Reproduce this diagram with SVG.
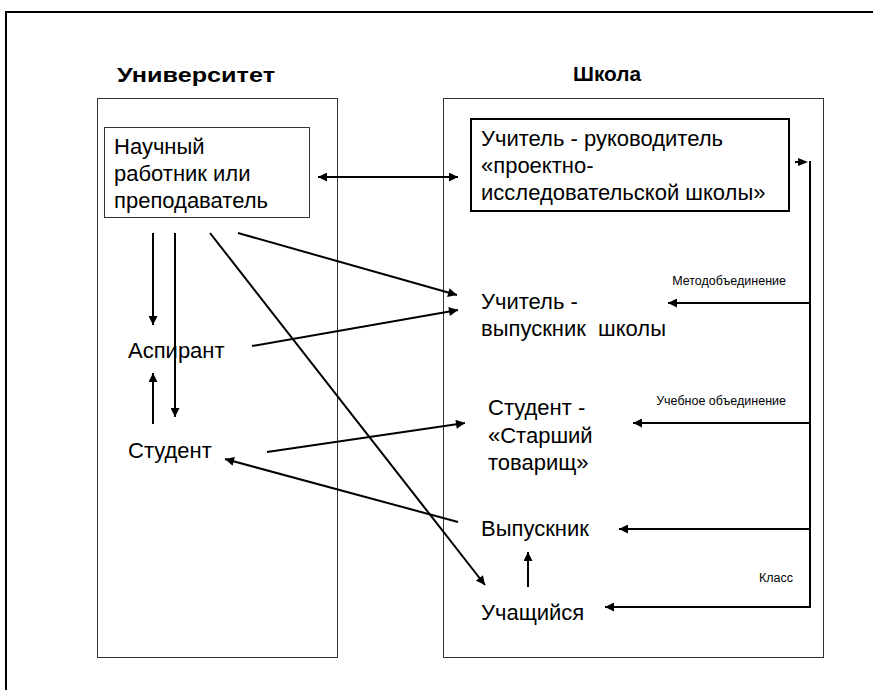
<svg xmlns="http://www.w3.org/2000/svg" width="873" height="690" viewBox="0 0 873 690">
<defs>
<marker id="ah" viewBox="0 0 10 10" refX="10" refY="5" markerWidth="10" markerHeight="9" markerUnits="userSpaceOnUse" orient="auto-start-reverse">
<path d="M0,0 L10,5 L0,10 z" fill="#000"/>
</marker>
</defs>
<style>
text{font-family:"Liberation Sans",Arial,sans-serif;fill:#000}
.t{font-size:22px}
.h{font-size:20px;font-weight:bold}
.s{font-size:12.5px}
.box{fill:none;stroke:#333;stroke-width:1}
.c{stroke:#000;stroke-width:2;fill:none;marker-end:url(#ah)}
.p{stroke:#000;stroke-width:2;fill:none}
</style>
<rect width="873" height="690" fill="#fff"/>
<path d="M6,690 V12 H873" fill="none" stroke="#000" stroke-width="2"/>
<g id="university">
<rect class="box" x="97.5" y="98.5" width="240" height="559"/>
<text class="h" x="117" y="82" textLength="158" lengthAdjust="spacingAndGlyphs">Университет</text>
</g>
<g id="school">
<rect class="box" x="443.5" y="98.5" width="380" height="559"/>
<text class="h" x="573" y="81" textLength="68" lengthAdjust="spacingAndGlyphs">Школа</text>
</g>
<g id="researcher">
<rect class="box" x="104.5" y="127.5" width="205" height="90"/>
<text class="t" x="114" y="154">Научный</text>
<text class="t" x="114" y="181">работник или</text>
<text class="t" x="114" y="208">преподаватель</text>
</g>
<g id="teacher-leader">
<rect x="471" y="119" width="318" height="92" fill="none" stroke="#000" stroke-width="2"/>
<text class="t" x="481" y="146">Учитель - руководитель</text>
<text class="t" x="481" y="173">«проектно-</text>
<text class="t" x="481" y="200">исследовательской школы»</text>
</g>
<g id="aspirant"><text class="t" x="128" y="358">Аспирант</text></g>
<g id="student"><text class="t" x="128" y="458">Студент</text></g>
<g id="teacher-graduate">
<text class="t" x="481" y="309">Учитель -</text>
<text class="t" x="481" y="336" xml:space="preserve">выпускник  школы</text>
</g>
<g id="senior-student">
<text class="t" x="488" y="415">Студент -</text>
<text class="t" x="488" y="443">«Старший</text>
<text class="t" x="488" y="470">товарищ»</text>
</g>
<g id="graduate"><text class="t" x="481" y="536">Выпускник</text></g>
<g id="pupil"><text class="t" x="481" y="620">Учащийся</text></g>
<g id="labels">
<text class="s" x="786" y="285" text-anchor="end">Методобъединение</text>
<text class="s" x="786" y="405" text-anchor="end">Учебное объединение</text>
<text class="s" x="793" y="582" text-anchor="end">Класс</text>
</g>
<g id="connectors">
<line class="c" x1="318" y1="177" x2="458" y2="177" marker-start="url(#ah)"/>
<line class="p" x1="795" y1="162" x2="800" y2="162"/>
<path d="M798,158 L808,162 L798,166 z" fill="#000"/>
<line class="p" x1="810" y1="161" x2="810" y2="608" stroke-width="1.5"/>
<line class="c" x1="810" y1="303" x2="668" y2="303"/>
<line class="c" x1="810" y1="423" x2="633" y2="423"/>
<line class="c" x1="810" y1="529" x2="619" y2="529"/>
<line class="c" x1="810" y1="607" x2="605" y2="607"/>
<line class="c" x1="153" y1="233" x2="153" y2="325"/>
<line class="c" x1="175" y1="233" x2="175" y2="417"/>
<line class="c" x1="153" y1="424" x2="153" y2="373"/>
<line class="c" x1="210" y1="233" x2="485" y2="585"/>
<line class="c" x1="238" y1="233" x2="457" y2="295"/>
<line class="c" x1="252" y1="346" x2="458" y2="310"/>
<line class="c" x1="267" y1="452" x2="465" y2="423"/>
<line class="c" x1="458" y1="522" x2="225" y2="459"/>
<line class="c" x1="528" y1="587" x2="528" y2="552"/>
</g>
</svg>
